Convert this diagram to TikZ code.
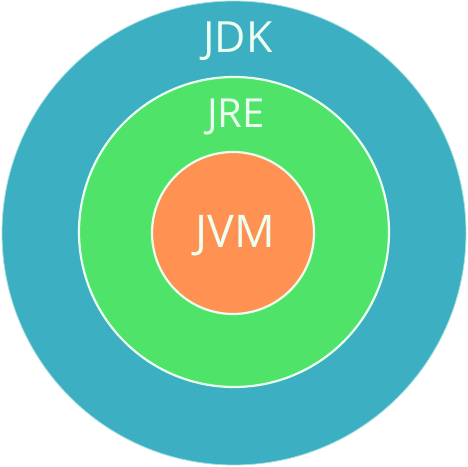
\documentclass[tikz,border=0pt]{standalone}
\usepackage{fontspec}
\setmainfont{Open Sans}
\definecolor{jdkblue}{RGB}{60,175,194}
\definecolor{jregreen}{RGB}{80,227,105}
\definecolor{jvmorange}{RGB}{255,145,82}
\definecolor{rimwhite}{RGB}{232,255,238}
\definecolor{labelwhite}{RGB}{236,255,240}
\tikzset{
  ring/.style={circle, inner sep=0pt, minimum size=#1},
  label text/.style={text=labelwhite, anchor=base, inner sep=0pt},
}
\begin{document}
\begin{tikzpicture}[x=1pt,y=1pt]
  \useasboundingbox (0,0) rectangle (468,466);
  % nested circles
  \node[ring=464pt, fill=jdkblue, draw=rimwhite!60!jdkblue, line width=0.8pt] (jdk) at (234,233) {};
  \node[ring=310pt, fill=jregreen, draw=rimwhite, line width=2.2pt] (jre) at (234,234) {};
  \node[ring=162pt, fill=jvmorange, draw=rimwhite, line width=2.2pt] (jvm) at (233,233) {};
  % labels
  \node[label text, font=\fontsize{43}{43}\selectfont] (jdklabel) at (238,413) {JDK};
  \node[label text, font=\fontsize{40}{40}\selectfont] (jrelabel) at (236,338) {JRE};
  \node[label text, font=\fontsize{45}{45}\selectfont] (jvmlabel) at (235,218) {JVM};
\end{tikzpicture}
\end{document}
